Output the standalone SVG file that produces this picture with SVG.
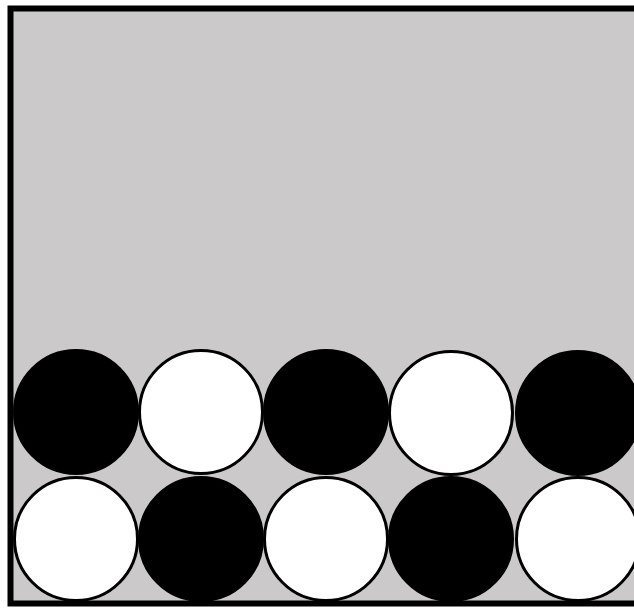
<svg xmlns="http://www.w3.org/2000/svg" width="634" height="608" viewBox="0 0 634 608">
<style>
.b{fill:#000;stroke:#000;stroke-width:3}
.w{fill:#fff;stroke:#000;stroke-width:3}
</style>
<rect width="634" height="608" fill="#fff"/>
<rect x="10.5" y="8.5" width="640" height="595" fill="#ccc9ca" stroke="#000" stroke-width="6"/>
<g id="row1">
<circle class="b" cx="76" cy="412" r="61.5"/>
<circle class="w" cx="201" cy="412" r="61.5"/>
<circle class="b" cx="326" cy="412" r="61.5"/>
<circle class="w" cx="451" cy="413" r="61.5"/>
<circle class="b" cx="578" cy="413" r="61.5"/>
</g>
<g id="row2">
<circle class="w" cx="76" cy="539" r="61.5"/>
<circle class="b" cx="201" cy="539" r="61.5"/>
<circle class="w" cx="326" cy="539" r="61.5"/>
<circle class="b" cx="451" cy="539" r="61.5"/>
<circle class="w" cx="578" cy="539" r="61.5"/>
</g>
</svg>
